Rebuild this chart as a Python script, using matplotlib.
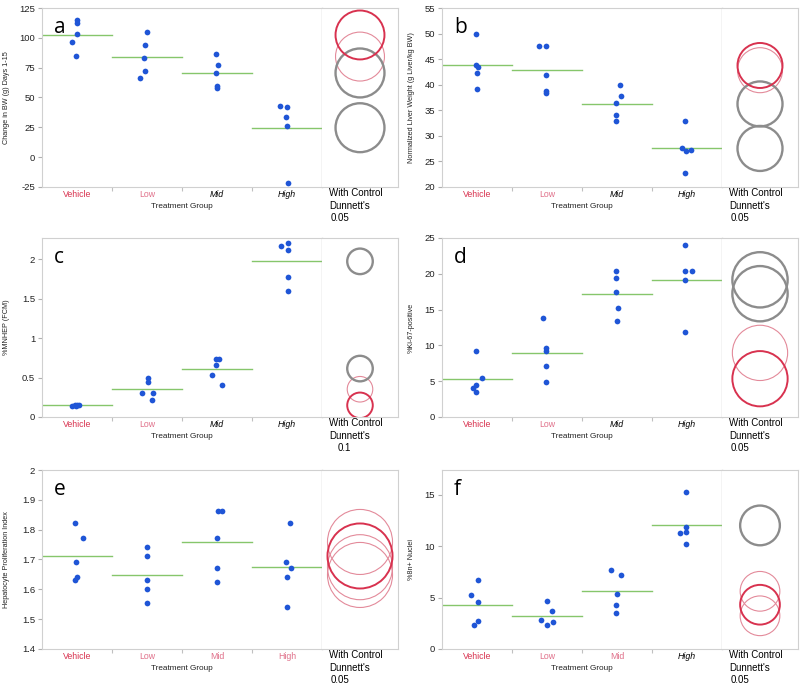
import numpy as np
import matplotlib.pyplot as plt
from matplotlib.patches import Ellipse

plt.rcParams['font.family'] = ['Liberation Sans', 'DejaVu Sans']

groups = ['Vehicle', 'Low', 'Mid', 'High']

# values per animal, one list per treatment group (Vehicle, Low, Mid, High)
bw_change = [[114.6, 112.4, 103.4, 96.7, 84.9],
             [105.1, 94.2, 83.2, 72.6, 66.4],
             [86.6, 77.6, 70.6, 59.7, 58.3],
             [43.1, 42.3, 33.3, 26.3, -21.6]]
liver_wt = [[50.0, 43.9, 43.55, 42.25, 39.1],
            [47.6, 47.6, 41.9, 38.8, 38.3],
            [39.9, 37.7, 36.5, 34.1, 33.0],
            [32.9, 27.7, 27.0, 27.3, 22.8]]
mnhep = [[0.14, 0.15, 0.155, 0.15, 0.145],
         [0.494, 0.439, 0.308, 0.300, 0.219],
         [0.738, 0.735, 0.662, 0.527, 0.409],
         [2.173, 2.203, 2.114, 1.776, 1.603]]
ki67 = [[9.22, 5.48, 4.40, 4.12, 3.51],
        [13.86, 9.60, 9.27, 7.12, 4.92],
        [20.46, 19.48, 17.46, 15.26, 13.44],
        [23.97, 20.37, 20.37, 19.15, 11.94]]
prolif_index = [[1.822, 1.772, 1.692, 1.642, 1.631],
                [1.743, 1.712, 1.631, 1.602, 1.553],
                [1.863, 1.863, 1.772, 1.673, 1.623],
                [1.821, 1.693, 1.673, 1.642, 1.542]]
nuclei_8n = [[6.68, 5.22, 4.53, 2.71, 2.38],
             [4.63, 3.72, 2.84, 2.64, 2.31],
             [7.69, 7.24, 5.35, 4.24, 3.52],
             [15.29, 11.84, 11.41, 11.31, 10.21]]

# horizontal jitter of the dots, as a fraction of one group's width
bw_change_dx = [[0, 0, 0, -0.07, -0.015], [0, -0.024, -0.038, -0.033, -0.105],
                [-0.01, 0.01, -0.014, 0.005, 0], [-0.095, 0, -0.01, 0.005, 0.01]]
liver_wt_dx = [[-0.014, -0.014, 0.01, -0.005, 0], [-0.12, -0.01, -0.014, -0.019, -0.014],
               [0.038, 0.062, -0.01, -0.019, -0.014], [-0.024, -0.071, -0.014, 0.052, -0.024]]
mnhep_dx = [[-0.07, -0.035, 0, 0.03, -0.01], [0.015, 0.015, -0.07, 0.085, 0.075],
            [-0.01, 0.024, -0.01, -0.067, 0.076], [-0.08, 0.015, 0.015, 0.015, 0.015]]
ki67_dx = [[-0.014, 0.07, -0.01, -0.06, -0.014], [-0.06, -0.02, -0.014, -0.01, -0.014],
           [-0.014, -0.014, -0.014, 0.014, 0], [-0.024, -0.024, 0.07, -0.024, -0.024]]
prolif_index_dx = [[-0.024, 0.08, -0.01, -0.005, -0.03], [0, 0, 0, 0, 0],
                   [0.01, 0.07, 0, 0, -0.005], [0.043, -0.01, 0.053, -0.005, 0]]
nuclei_8n_dx = [[0.014, -0.085, 0.01, 0.014, -0.043], [0, 0.067, -0.086, 0.08, 0],
                [-0.086, 0.062, 0, -0.019, -0.014], [-0.01, -0.01, -0.01, -0.105, -0.01]]

data = [bw_change, liver_wt, mnhep, ki67, prolif_index, nuclei_8n]
jitter = [bw_change_dx, liver_wt_dx, mnhep_dx, ki67_dx, prolif_index_dx, nuclei_8n_dx]

letters = ['a', 'b', 'c', 'd', 'e', 'f']
ylabels = ['Change in BW (g) Days 1-15', 'Normalized Liver Weight (g Liver/kg BW)',
           '%MNHEP (FCM)', '%Ki-67-positive', 'Hepatocyte Proliferation Index', '%8n+ Nuclei']
ylims = [(-25, 125), (20, 55), (0, 2.27), (0, 25), (1.4, 2.0), (0, 17.4)]
yticks = [[-25, 0, 25, 50, 75, 100, 125], [20, 25, 30, 35, 40, 45, 50, 55],
          [0, 0.5, 1, 1.5, 2], [0, 5, 10, 15, 20, 25],
          [1.4, 1.5, 1.6, 1.7, 1.8, 1.9, 2.0], [0, 5, 10, 15]]
yticklabels = [['-25', '0', '25', '50', '75', '100', '125'],
               ['20', '25', '30', '35', '40', '45', '50', '55'],
               ['0', '0.5', '1', '1.5', '2'],
               ['0', '5', '10', '15', '20', '25'],
               ['1.4', '1.5', '1.6', '1.7', '1.8', '1.9', '2'],
               ['0', '5', '10', '15']]
# comparison circle radius (data units) and Dunnett's alpha
radius = [20.5, 4.4, 0.162, 3.86, 0.109, 1.93]
alpha = ['0.05', '0.05', '0.1', '0.05', '0.05', '0.05']
# c = control, n = not different from control, s = significant
sig = [['c', 'n', 's', 's'], ['c', 'n', 's', 's'], ['c', 'n', 's', 's'],
       ['c', 'n', 's', 's'], ['c', 'n', 'n', 'n'], ['c', 'n', 'n', 's']]

blue = '#1f55d6'
green = '#86c66b'
frame = '#d0d0d0'
circle_style = {'c': dict(edgecolor='#d8324f', lw=1.4, zorder=3),
                'n': dict(edgecolor='#e38a9a', lw=0.8, zorder=1),
                's': dict(edgecolor='#8c8c8c', lw=1.7, zorder=2)}
label_color = {'c': '#d8324f', 'n': '#e0708a', 's': 'black'}

W, H = 800, 686
fig = plt.figure(figsize=(W / 100, H / 100), dpi=100)

for k in range(6):
    col, row = k % 2, k // 2
    x0 = 42 + 400 * col
    top = [8, 238, 470][row]
    ax = fig.add_axes([x0 / W, 1 - (top + 179) / H, 280 / W, 179 / H])
    cx = fig.add_axes([(x0 + 280) / W, 1 - (top + 179) / H, 76 / W, 179 / H])
    lo, hi = ylims[k]
    px_per_unit = 179 / (hi - lo)

    for i, vals in enumerate(data[k]):
        xs = i + 0.5 + np.array(jitter[k][i])
        ax.scatter(xs, vals, s=17, color=blue, linewidths=0, zorder=3)
        m = np.mean(vals)
        ax.plot([i, i + 1], [m, m], color=green, lw=1.0, zorder=2)
        r = radius[k]
        cx.add_patch(Ellipse((0.5, m), width=2 * r * px_per_unit / 76, height=2 * r,
                             fill=False, **circle_style[sig[k][i]]))

    ax.set_xlim(0, 4)
    ax.set_ylim(lo, hi)
    cx.set_xlim(0, 1)
    cx.set_ylim(lo, hi)

    for s in ['left', 'bottom', 'top']:
        ax.spines[s].set_color(frame)
        ax.spines[s].set_linewidth(0.8)
    ax.spines['right'].set_color('#a8a8a8')
    ax.spines['right'].set_linewidth(0.9)
    cx.spines['left'].set_visible(False)
    for s in ['right', 'bottom', 'top']:
        cx.spines[s].set_color(frame)
        cx.spines[s].set_linewidth(0.8)
    cx.set_xticks([])
    cx.set_yticks([])

    ax.set_yticks(yticks[k])
    ax.set_yticklabels(yticklabels[k])
    ax.tick_params(axis='y', length=3, color='#b0b0b0', labelsize=6.8, pad=2, labelcolor='#222222')
    ax.set_xticks([1, 2, 3])
    ax.set_xticklabels([])
    ax.tick_params(axis='x', which='major', length=3, color='#c0c0c0')
    ax.set_xticks(np.arange(4) + 0.5, minor=True)
    ax.set_xticklabels(groups, minor=True)
    ax.tick_params(axis='x', which='minor', length=0, labelsize=6.3, pad=2)
    for lab, s in zip(ax.get_xticklabels(minor=True), sig[k]):
        lab.set_color(label_color[s])
        if s == 's':
            lab.set_style('italic')

    ax.set_ylabel(ylabels[k], fontsize=5.2, color='#222222')
    ax.yaxis.set_label_coords(-(32 if col == 0 else 27) / 280, 0.5)
    ax.text(0.5, -19 / 179, 'Treatment Group', transform=ax.transAxes,
            ha='center', va='center', fontsize=5.9, color='#222222')
    ax.text(12 / 280, 1 - 25 / 179, letters[k], transform=ax.transAxes,
            fontsize=15, family='Open Sans', va='baseline')

    cx.text(0.09, -6 / 179, 'With Control', transform=cx.transAxes, fontsize=7, va='center')
    cx.text(0.09, -19 / 179, "Dunnett's", transform=cx.transAxes, fontsize=7, va='center')
    cx.text(0.2 if alpha[k] == '0.1' else 0.12, -31 / 179, alpha[k], transform=cx.transAxes,
            fontsize=7, va='center')

fig.savefig('out.png', dpi=100)
